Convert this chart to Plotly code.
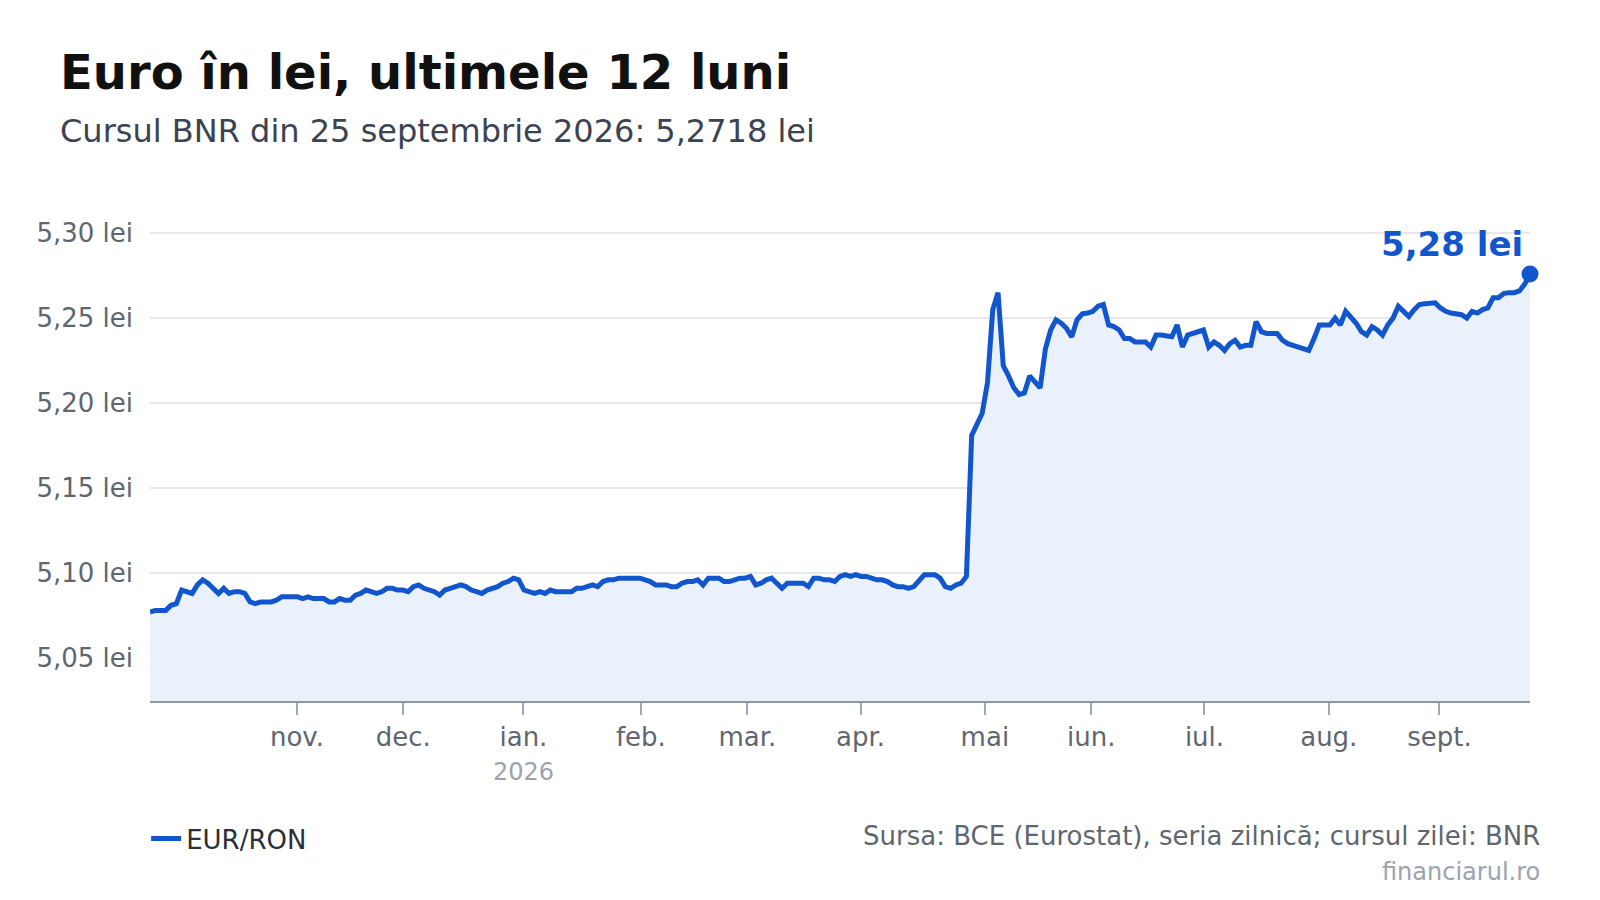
import plotly.graph_objects as go

# EUR/RON daily fixing, one value per trading day (26 sept. 2025 - 25 sept. 2026)
eur_ron = [
    5.077, 5.078, 5.078, 5.078, 5.081, 5.082, 5.090, 5.089, 5.088, 5.093,
    5.096, 5.094, 5.091, 5.088, 5.091, 5.088, 5.089, 5.089, 5.088, 5.083,
    5.082, 5.083, 5.083, 5.083, 5.084, 5.086, 5.086, 5.086, 5.086, 5.085,
    5.086, 5.085, 5.085, 5.085, 5.083, 5.083, 5.085, 5.084, 5.084, 5.087,
    5.088, 5.090, 5.089, 5.088, 5.089, 5.091, 5.091, 5.090, 5.090, 5.089,
    5.092, 5.093, 5.091, 5.090, 5.089, 5.087, 5.090, 5.091, 5.092, 5.093,
    5.092, 5.090, 5.089, 5.088, 5.090, 5.091, 5.092, 5.094, 5.095, 5.097,
    5.096, 5.090, 5.089, 5.088, 5.089, 5.088, 5.090, 5.089, 5.089, 5.089,
    5.089, 5.091, 5.091, 5.092, 5.093, 5.092, 5.095, 5.096, 5.096, 5.097,
    5.097, 5.097, 5.097, 5.097, 5.096, 5.095, 5.093, 5.093, 5.093, 5.092,
    5.092, 5.094, 5.095, 5.095, 5.096, 5.093, 5.097, 5.097, 5.097, 5.095,
    5.095, 5.096, 5.097, 5.097, 5.098, 5.093, 5.094, 5.096, 5.097, 5.094,
    5.091, 5.094, 5.094, 5.094, 5.094, 5.092, 5.097, 5.097, 5.096, 5.096,
    5.095, 5.098, 5.099, 5.098, 5.099, 5.098, 5.098, 5.097, 5.096, 5.096,
    5.095, 5.093, 5.092, 5.092, 5.091, 5.092, 5.096, 5.099, 5.099, 5.099,
    5.097, 5.092, 5.091, 5.093, 5.094, 5.098, 5.181, 5.187, 5.194, 5.212,
    5.255, 5.265, 5.222, 5.216, 5.209, 5.205, 5.206, 5.216, 5.213, 5.209,
    5.232, 5.243, 5.249, 5.247, 5.244, 5.239, 5.249, 5.2525, 5.253, 5.254,
    5.257, 5.258, 5.246, 5.245, 5.243, 5.238, 5.238, 5.236, 5.236, 5.236,
    5.233, 5.240, 5.240, 5.2395, 5.239, 5.246, 5.233, 5.240, 5.241, 5.242,
    5.243, 5.233, 5.236, 5.234, 5.231, 5.235, 5.237, 5.233, 5.234, 5.234,
    5.248, 5.242, 5.241, 5.241, 5.241, 5.237, 5.235, 5.234, 5.233, 5.232,
    5.231, 5.238, 5.246, 5.246, 5.246, 5.250, 5.246, 5.254, 5.251, 5.247,
    5.242, 5.240, 5.245, 5.243, 5.240, 5.246, 5.250, 5.257, 5.254, 5.251,
    5.255, 5.258, 5.2585, 5.259, 5.259, 5.256, 5.254, 5.253, 5.2525, 5.252,
    5.250, 5.254, 5.253, 5.255, 5.256, 5.262, 5.262, 5.2645, 5.265, 5.265,
    5.266, 5.270, 5.276,
]
days = list(range(len(eur_ron)))

# first trading day of each month, as position in the series
month_pos = [27.9, 48.1, 70.9, 93.2, 113.4, 134.9, 158.5, 178.7, 200.2, 223.8, 244.8]
month_labels = ["nov.", "dec.",
                "ian.<br><span style='color:#9ca3af;font-size:24px'>2026</span>",
                "feb.", "mar.", "apr.", "mai", "iun.", "iul.", "aug.", "sept."]

y_ticks = [5.05, 5.10, 5.15, 5.20, 5.25, 5.30]
y_labels = [f"{v:.2f}".replace(".", ",") + " lei" for v in y_ticks]

blue = "#1156cc"
font = "DejaVu Sans"

fig = go.Figure()
fig.add_trace(go.Scatter(x=days, y=eur_ron, mode="lines", fill="tozeroy",
                         fillcolor="#eaf1fb", line=dict(width=0), showlegend=False,
                         hoverinfo="skip"))
fig.add_trace(go.Scatter(x=days, y=eur_ron, mode="lines", name="EUR/RON",
                         line=dict(color=blue, width=5)))
fig.add_trace(go.Scatter(x=[days[-1]], y=[eur_ron[-1]], mode="markers", showlegend=False,
                         marker=dict(color=blue, size=17), cliponaxis=False))

fig.add_annotation(x=days[-1], y=eur_ron[-1], text="<b>5,28 lei</b>", showarrow=False,
                   xanchor="right", yanchor="middle", xshift=-5, yshift=30,
                   font=dict(family=font, size=34, color=blue))

fig.add_annotation(xref="paper", yref="paper", x=-0.0667, y=1.322, xanchor="left", yanchor="middle",
                   text="<b>Euro în lei, ultimele 12 luni</b>", showarrow=False,
                   font=dict(family=font, size=48, color="#111111"))
fig.add_annotation(xref="paper", yref="paper", x=-0.0667, y=1.198, xanchor="left", yanchor="middle",
                   text="Cursul BNR din 25 septembrie 2026: 5,2718 lei", showarrow=False,
                   font=dict(family=font, size=32, color="#3c4350"))
fig.add_annotation(xref="paper", yref="paper", x=1.0087, y=-0.283, xanchor="right", yanchor="middle",
                   text="Sursa: BCE (Eurostat), seria zilnică; cursul zilei: BNR", showarrow=False,
                   font=dict(family=font, size=26, color="#5f6670"))
fig.add_annotation(xref="paper", yref="paper", x=1.0087, y=-0.360, xanchor="right", yanchor="middle",
                   text="financiarul.ro", showarrow=False,
                   font=dict(family=font, size=24, color="#9ca3af"))

fig.update_layout(
    width=1600, height=900,
    margin=dict(l=142, r=78, t=217, b=207),
    paper_bgcolor="white", plot_bgcolor="white",
    font=dict(family=font, size=26, color="#5f6670"),
    legend=dict(orientation="h", x=-0.0028, y=-0.289, xanchor="left", yanchor="middle",
                font=dict(family=font, size=26, color="#2b2f36"), itemwidth=30),
    xaxis=dict(range=[0, days[-1]], tickvals=month_pos, ticktext=month_labels,
               showgrid=False, zeroline=False, showline=True, linecolor="#8e97a8", linewidth=2,
               ticks="outside", ticklen=12, tickwidth=2, tickcolor="#a0a7b4",
               tickfont=dict(size=26, color="#5f6670")),
    yaxis=dict(range=[5.0247, 5.3048], tickvals=y_ticks, ticktext=y_labels,
               showgrid=True, gridcolor="#e6e8ec", gridwidth=2, zeroline=False,
               ticks="", ticklabelstandoff=16, tickfont=dict(size=26, color="#5f6670")),
)

fig.write_html("out.html")
